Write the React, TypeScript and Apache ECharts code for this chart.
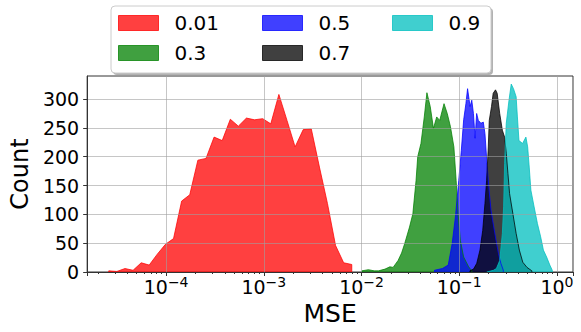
import React, { useEffect, useRef } from "react";
import * as echarts from "echarts";

// ---- data (x values are log10(MSE)) ----
const seriesNames = ["0.01", "0.3", "0.5", "0.7", "0.9"];

const redLogMse = [-4.587, -4.504, -4.421, -4.338, -4.255, -4.173, -4.09, -4.007, -3.924, -3.841, -3.758, -3.675, -3.592, -3.509, -3.426, -3.343, -3.261, -3.178, -3.095, -3.012, -2.929, -2.846, -2.763, -2.68, -2.597, -2.514, -2.431, -2.349, -2.266, -2.183, -2.1];
const redCounts = [2, 1, 6, 3, 16, 12, 31, 48, 58, 123, 134, 194, 197, 234, 228, 265, 253, 267, 264, 266, 257, 308, 263, 217, 247, 248, 182, 119, 46, 16, 13];

const greenLogMse = [-1.996, -1.93, -1.87, -1.827, -1.76, -1.71, -1.677, -1.626, -1.59, -1.559, -1.509, -1.475, -1.442, -1.425, -1.392, -1.358, -1.331, -1.297, -1.264, -1.231, -1.2, -1.156, -1.123, -1.09, -1.055, -1.032, -1.012, -0.989, -0.955, -0.904, -0.871];
const greenCounts = [2, 4, 2, 2, 5, 9, 8, 20, 33, 49, 78, 101, 159, 200, 223, 269, 311, 287, 249, 269, 263, 292, 275, 252, 217, 159, 101, 55, 26, 9, 2];

const blueLogMse = [-1.254, -1.173, -1.113, -1.073, -1.039, -1.005, -0.979, -0.955, -0.932, -0.915, -0.889, -0.872, -0.855, -0.838, -0.822, -0.805, -0.778, -0.754, -0.737, -0.715, -0.695, -0.675, -0.65, -0.624, -0.599, -0.574, -0.549];
const blueCounts = [3, 6, 12, 49, 96, 159, 211, 264, 292, 318, 287, 298, 275, 232, 275, 263, 258, 260, 240, 185, 142, 107, 81, 55, 32, 15, 3];

const blackLogMse = [-0.891, -0.854, -0.821, -0.788, -0.76, -0.737, -0.72, -0.703, -0.693, -0.67, -0.653, -0.629, -0.612, -0.586, -0.559, -0.536, -0.519, -0.502, -0.485, -0.451, -0.418, -0.385, -0.35, -0.307, -0.257];
const blackCounts = [2, 5, 15, 38, 72, 119, 159, 217, 263, 287, 310, 316, 310, 275, 246, 234, 206, 171, 136, 101, 67, 38, 17, 8, 2];

const cyanLogMse = [-0.72, -0.65, -0.62, -0.586, -0.559, -0.546, -0.536, -0.519, -0.491, -0.468, -0.445, -0.418, -0.405, -0.389, -0.352, -0.318, -0.3, -0.284, -0.267, -0.234, -0.2, -0.167, -0.139, -0.106, -0.073, -0.048];
const cyanCounts = [1, 3, 6, 20, 67, 113, 188, 258, 298, 326, 318, 304, 269, 228, 223, 234, 217, 182, 142, 113, 84, 61, 38, 26, 12, 3];

const yTicks = [0, 50, 100, 150, 200, 250, 300];

const colors = [
  "rgba(255,0,0,0.75)",
  "rgba(0,128,0,0.75)",
  "rgba(0,0,255,0.75)",
  "rgba(0,0,0,0.75)",
  "rgba(0,191,191,0.75)",
];

const FONT = "DejaVu Sans";

function toData(logs: number[], counts: number[]) {
  const pts = logs.map((e, i) => [Math.pow(10, e), counts[i]]);
  return [[pts[0][0], 0], ...pts, [pts[pts.length - 1][0], 0]];
}

const allLogs = [redLogMse, greenLogMse, blueLogMse, blackLogMse, cyanLogMse];
const allCounts = [redCounts, greenCounts, blueCounts, blackCounts, cyanCounts];

export default function App() {
  const ref = useRef<HTMLDivElement>(null);
  useEffect(() => {
    if (!ref.current) return;
    const chart = echarts.init(ref.current, undefined, { renderer: "svg" });
    const gridColor = "rgba(160,160,160,0.6)";
    const legendItem = (i: number) => ({
      name: seriesNames[i],
      itemStyle: { color: colors[i], borderColor: colors[i], borderWidth: 1 },
    });
    const legendBase = {
      orient: "vertical",
      top: 13,
      padding: 0,
      itemWidth: 40,
      itemHeight: 15,
      itemGap: 10,
      icon: "rect",
      selectedMode: false,
      formatter: (n: string) => "{p|" + n + "}",
      textStyle: {
        fontSize: 20,
        color: "#000",
        fontFamily: FONT,
        rich: { p: { fontSize: 20, color: "#000", fontFamily: FONT, padding: [0, 0, 0, 11] } },
      },
    };
    chart.setOption({
      animation: false,
      textStyle: { fontFamily: FONT },
      grid: { left: 79, right: 8, top: 76, bottom: 60, show: true, borderColor: "#333", borderWidth: 1 },
      graphic: [
        { type: "rect", z: 1, shape: { x: 113, y: 8, width: 380, height: 67, r: 4 }, style: { fill: "rgba(0,0,0,0.3)" } },
        { type: "rect", z: 2, shape: { x: 111, y: 6, width: 380, height: 67, r: 4 }, style: { fill: "#fff", stroke: "#cccccc", lineWidth: 1 } },
      ],
      legend: [
        { ...legendBase, left: 118, data: [legendItem(0), legendItem(1)] },
        { ...legendBase, left: 262, data: [legendItem(2), legendItem(3)] },
        { ...legendBase, left: 392, data: [legendItem(4)] },
      ],
      xAxis: {
        type: "log",
        logBase: 10,
        min: Math.pow(10, -4.808),
        max: Math.pow(10, 0.164),
        z: 5,
        axisLine: { show: true, onZero: false, lineStyle: { color: "#333" } },
        axisTick: { show: true, length: 4, lineStyle: { color: "#333" } },
        minorTick: { show: true, splitNumber: 9, length: 2, lineStyle: { color: "#333" } },
        splitLine: { show: true, lineStyle: { color: gridColor, width: 1 } },
        axisLabel: {
          margin: 3,
          color: "#000",
          formatter: (v: number) => {
            const l = Math.log10(v);
            const e = Math.round(l);
            if (Math.abs(l - e) > 1e-6) return "";
            const s = e < 0 ? "\u2212" + Math.abs(e) : String(e);
            return "{b|10}{s|" + s + "}";
          },
          rich: {
            b: { fontSize: 19, fontFamily: FONT, color: "#000", verticalAlign: "bottom" },
            s: { fontSize: 14, fontFamily: FONT, color: "#000", verticalAlign: "top", padding: [0, 0, 7, 0] },
          },
        },
        name: "MSE",
        nameLocation: "middle",
        nameGap: 27,
        nameTextStyle: { fontSize: 25, fontFamily: FONT, color: "#000" },
      },
      yAxis: {
        type: "value",
        min: 0,
        max: 340,
        interval: 50,
        z: 5,
        axisLine: { show: true, lineStyle: { color: "#333" } },
        axisTick: { show: true, length: 4, lineStyle: { color: "#333" }, customValues: yTicks },
        splitLine: { show: true, lineStyle: { color: gridColor, width: 1 } },
        axisLabel: { fontSize: 19, fontFamily: FONT, color: "#000", margin: 8, customValues: yTicks },
        name: "Count",
        nameLocation: "middle",
        nameGap: 50,
        nameTextStyle: { fontSize: 24, fontFamily: FONT, color: "#000" },
      },
      series: seriesNames.map((name, i) => ({
        name,
        type: "line",
        data: toData(allLogs[i], allCounts[i]),
        symbol: "none",
        showSymbol: false,
        lineStyle: { color: colors[i], width: 1 },
        itemStyle: { color: colors[i] },
        areaStyle: { color: colors[i], opacity: 1 },
      })),
    });
    return () => chart.dispose();
  }, []);
  return <div ref={ref} style={{ width: 581, height: 332, position: "absolute", left: 0, top: 0 }} />;
}
